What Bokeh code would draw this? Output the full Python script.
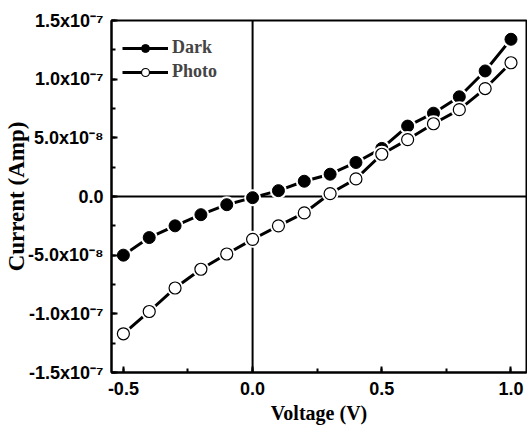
from bokeh.plotting import figure
from bokeh.models import (Range1d, FixedTicker, CustomJSTickFormatter, Span,
                          Legend, LegendItem)
from bokeh.embed import file_html
from bokeh.resources import INLINE

# ---- data ----
voltage = [-0.5, -0.4, -0.3, -0.2, -0.1, 0.0, 0.1, 0.2, 0.3, 0.4, 0.5, 0.6, 0.7, 0.8, 0.9, 1.0]
dark = [-5.0e-8, -3.5e-8, -2.5e-8, -1.55e-8, -0.7e-8, -0.1e-8, 0.5e-8, 1.3e-8,
        1.9e-8, 2.9e-8, 4.1e-8, 6.0e-8, 7.1e-8, 8.5e-8, 10.7e-8, 13.4e-8]
photo = [-11.7e-8, -9.8e-8, -7.8e-8, -6.2e-8, -4.9e-8, -3.65e-8, -2.5e-8, -1.4e-8,
         0.25e-8, 1.5e-8, 3.6e-8, 4.85e-8, 6.2e-8, 7.4e-8, 9.2e-8, 11.4e-8]

x_ticks = [-0.5, 0.0, 0.5, 1.0]
x_tick_labels = ["-0.5", "0.0", "0.5", "1.0"]
x_minor = [-0.5, -0.25, 0.0, 0.25, 0.5, 0.75, 1.0]
y_ticks = [-1.5e-7, -1.0e-7, -5.0e-8, 0.0, 5.0e-8, 1.0e-7, 1.5e-7]
y_tick_labels = ["-1.5x10\u207b\u2077", "-1.0x10\u207b\u2077", "-5.0x10\u207b\u2078", "0.0",
                 "5.0x10\u207b\u2078", "1.0x10\u207b\u2077", "1.5x10\u207b\u2077"]
y_minor = [-1.5e-7, -1.25e-7, -1.0e-7, -7.5e-8, -5.0e-8, -2.5e-8, 0.0, 2.5e-8,
           5.0e-8, 7.5e-8, 1.0e-7, 1.25e-7, 1.5e-7]

p = figure(width=527, height=426, output_backend="svg", toolbar_location=None,
           x_range=Range1d(-0.546, 1.06), y_range=Range1d(-1.5e-7, 1.5e-7),
           min_border_left=105, min_border_right=1, min_border_top=20, min_border_bottom=53)
p.grid.visible = False
p.outline_line_color = "black"
p.outline_line_width = 2
p.background_fill_color = "white"
p.border_fill_color = "white"

fmt_code = """
let best = 0;
for (let i = 0; i < tv.length; i++) {
  if (Math.abs(tv[i] - tick) < Math.abs(tv[best] - tick)) best = i;
}
return tl[best];
"""
p.xaxis.ticker = FixedTicker(ticks=x_ticks, minor_ticks=x_minor)
p.yaxis.ticker = FixedTicker(ticks=y_ticks, minor_ticks=y_minor)
p.xaxis.formatter = CustomJSTickFormatter(args=dict(tv=x_ticks, tl=x_tick_labels), code=fmt_code)
p.yaxis.formatter = CustomJSTickFormatter(args=dict(tv=y_ticks, tl=y_tick_labels), code=fmt_code)

for ax in (p.xaxis[0], p.yaxis[0]):
    ax.axis_line_width = 2
    ax.axis_line_color = "black"
    ax.major_tick_in = 6
    ax.major_tick_out = 0
    ax.minor_tick_in = 4
    ax.minor_tick_out = 0
    ax.major_tick_line_width = 2
    ax.minor_tick_line_width = 2
    ax.major_label_text_font = "Liberation Sans"
    ax.major_label_text_font_style = "bold"
    ax.major_label_text_font_size = "18px"
    ax.major_label_text_color = "black"
    ax.axis_label_text_font = "Liberation Serif"
    ax.axis_label_text_font_style = "bold"
    ax.axis_label_text_color = "black"

p.xaxis.axis_label = "Voltage (V)"
p.yaxis.axis_label = "Current (Amp)"
p.xaxis.axis_label_text_font_size = "20px"
p.yaxis.axis_label_text_font_size = "23px"
p.yaxis.major_label_standoff = 8
p.xaxis.major_label_standoff = 9
p.yaxis.axis_label_standoff = -4
p.xaxis.axis_label_standoff = 4

p.add_layout(Span(location=0, dimension="width", line_color="black", line_width=2, level="underlay"))
p.add_layout(Span(location=0, dimension="height", line_color="black", line_width=2, level="underlay"))

# dark
l1 = p.line(voltage, dark, line_color="black", line_width=3)
p.scatter(voltage, dark, size=17, fill_color="white", line_color=None)
m1 = p.scatter(voltage, dark, size=12, fill_color="black", line_color="black")
# photo
l2 = p.line(voltage, photo, line_color="black", line_width=3)
p.scatter(voltage, photo, size=17, fill_color="white", line_color=None)
m2 = p.scatter(voltage, photo, size=12, fill_color="white", line_color="black", line_width=1.2)

legend = Legend(items=[LegendItem(label="Dark", renderers=[l1, m1]),
                       LegendItem(label="Photo", renderers=[l2, m2])],
                location=(11, 290), margin=0, padding=0, spacing=3,
                glyph_width=46, glyph_height=20, label_standoff=4,
                label_text_font="Liberation Serif", label_text_font_style="bold",
                label_text_font_size="18px", border_line_color=None,
                background_fill_alpha=0)
p.add_layout(legend)

open("out.html", "w").write(file_html(p, INLINE))
